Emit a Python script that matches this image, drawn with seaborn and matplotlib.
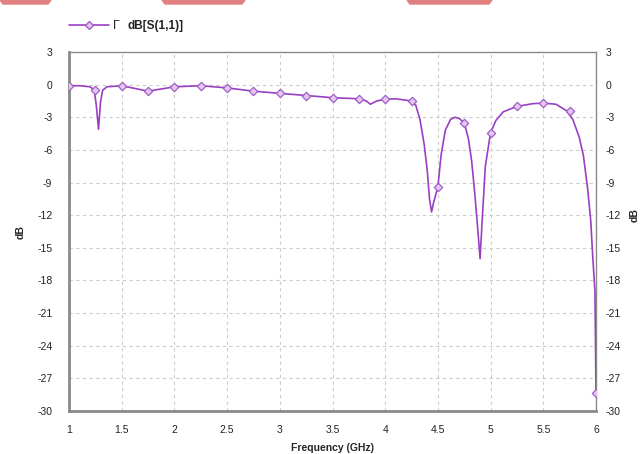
import matplotlib
matplotlib.use("Agg")
import matplotlib.pyplot as plt
import seaborn as sns
import pandas as pd
from matplotlib.patches import Polygon

# ---- data ----
freq_curve = [1.0, 1.1, 1.2, 1.24, 1.26, 1.28, 1.30, 1.32, 1.36, 1.5, 1.75, 2.0, 2.25, 2.5,
              2.75, 3.0, 3.25, 3.5, 3.75, 3.82, 3.86, 3.92, 4.0, 4.1, 4.25, 4.29, 4.33,
              4.37, 4.40, 4.42, 4.44, 4.46, 4.5, 4.53, 4.57, 4.62, 4.66, 4.70, 4.75, 4.79,
              4.82, 4.85, 4.88, 4.90, 4.92, 4.95, 5.0, 5.05, 5.12, 5.25, 5.4, 5.5, 5.62,
              5.72, 5.78, 5.84, 5.88, 5.92, 5.95, 5.97, 5.99, 6.0]
db_curve = [-0.1, -0.1, -0.2, -0.5, -2.0, -4.1, -1.5, -0.5, -0.2, -0.1, -0.6, -0.2, -0.1, -0.3,
            -0.6, -0.8, -1.0, -1.2, -1.3, -1.5, -1.8, -1.5, -1.35, -1.3, -1.5, -1.9, -3.2,
            -5.5, -8.0, -10.5, -11.7, -10.8, -9.4, -6.5, -4.2, -3.2, -3.0, -3.1, -3.5, -5.0,
            -7.0, -10.0, -13.5, -16.0, -12.5, -7.5, -4.4, -3.3, -2.5, -2.0, -1.75, -1.7, -1.8,
            -2.4, -3.2, -4.8, -6.5, -9.5, -12.5, -16.0, -19.0, -28.3]
freq_marks = [1.0, 1.25, 1.5, 1.75, 2.0, 2.25, 2.5, 2.75, 3.0, 3.25, 3.5, 3.75, 4.0, 4.25,
              4.5, 4.75, 5.0, 5.25, 5.5, 5.75, 6.0]
db_marks = [-0.1, -0.5, -0.1, -0.6, -0.2, -0.1, -0.3, -0.6, -0.8, -1.0, -1.2, -1.3, -1.35, -1.5,
            -9.4, -3.5, -4.4, -2.0, -1.7, -2.4, -28.3]
x_ticks = [1, 1.5, 2, 2.5, 3, 3.5, 4, 4.5, 5, 5.5, 6]
x_ticklabels = ["1", "1.5", "2", "2.5", "3", "3.5", "4", "4.5", "5", "5.5", "6"]
y_ticks = [3, 0, -3, -6, -9, -12, -15, -18, -21, -24, -27, -30]
legend_mark = "Γ"
series_label = "dB[S(1,1)]"

curve = pd.DataFrame({"f": freq_curve, "db": db_curve})
marks = pd.DataFrame({"f": freq_marks, "db": db_marks})

sns.set_style("white")
plt.rcParams["font.family"] = ["Liberation Sans", "DejaVu Sans"]
plt.rcParams["axes.unicode_minus"] = False

fig = plt.figure(figsize=(6.43, 4.54), dpi=100)
ax = fig.add_axes([69/643, 1 - 411/454, (596-69)/643, (411-52)/454])

line_col = "#9a3fc4"
mk_face = "#e6c6f0"
mk_edge = "#a060c8"
sns.lineplot(data=curve, x="f", y="db", ax=ax, color=line_col, linewidth=1.2,
             estimator=None, sort=False, zorder=3)
sns.scatterplot(data=marks, x="f", y="db", ax=ax, marker="D", s=18,
                color=mk_face, edgecolor=mk_edge, linewidth=0.9, zorder=4)

ax.set_xlim(1, 6)
ax.set_ylim(-30, 3)
ax.set_xticks(x_ticks)
ax.set_xticklabels(x_ticklabels)
ax.set_yticks(y_ticks)
ax.set_yticklabels([str(v) for v in y_ticks])
ax.tick_params(axis="both", labelsize=7.5, colors="#222222", length=0)
ax.tick_params(axis="x", pad=10)
ax.tick_params(axis="y", pad=12, left=False)
ax.grid(True, color="#cccccc", linestyle=(0, (3, 3)), linewidth=0.8)
for sp in ax.spines.values():
    sp.set_color("#8a8a8a")
    sp.set_linewidth(1.0)
ax.spines["left"].set_linewidth(2.0)
ax.spines["bottom"].set_linewidth(2.0)

# right-hand duplicate y axis
ax2 = ax.twinx()
ax2.set_ylim(-30, 3)
ax2.set_yticks(y_ticks)
ax2.set_yticklabels([str(v) for v in y_ticks])
ax2.tick_params(axis="y", labelsize=7.5, colors="#222222", length=0, pad=7)
ax2.grid(False)
for sp in ax2.spines.values():
    sp.set_visible(False)

ax.set_xlabel("Frequency (GHz)", fontsize=7.5, fontweight="bold", labelpad=6)
ax.set_ylabel("dB", fontsize=7.5, fontweight="bold", labelpad=8)
fig.text(635/643, 1 - 215/454, "dB", rotation=90, fontsize=7.5, fontweight="bold",
         ha="center", va="center")

# legend
h, = ax.plot([], [], color=line_col, marker="D", markersize=4, markerfacecolor=mk_face,
             markeredgecolor=mk_edge, linewidth=1.2)
leg = fig.legend([h], [legend_mark], loc="center left", bbox_to_anchor=(58/643, 1 - 26/454),
                 frameon=False, handlelength=3.2, fontsize=9, handletextpad=0.3)
fig.text(128/643, 1 - 26/454, series_label, fontsize=8.5, fontweight="bold",
         ha="left", va="center", color="#222222")

# pink bars at top edge (screenshot artifact)
pink = "#e08080"
for x0, x1 in [(0, 51), (162, 245), (407, 492)]:
    fig.patches.append(Polygon([(x0/643, 1), (x1/643, 1), ((x1-3)/643, 1 - 4/454),
                                ((x0+3)/643, 1 - 4/454)], closed=True,
                               transform=fig.transFigure, color=pink, zorder=0))

fig.savefig("out.png", dpi=100)
